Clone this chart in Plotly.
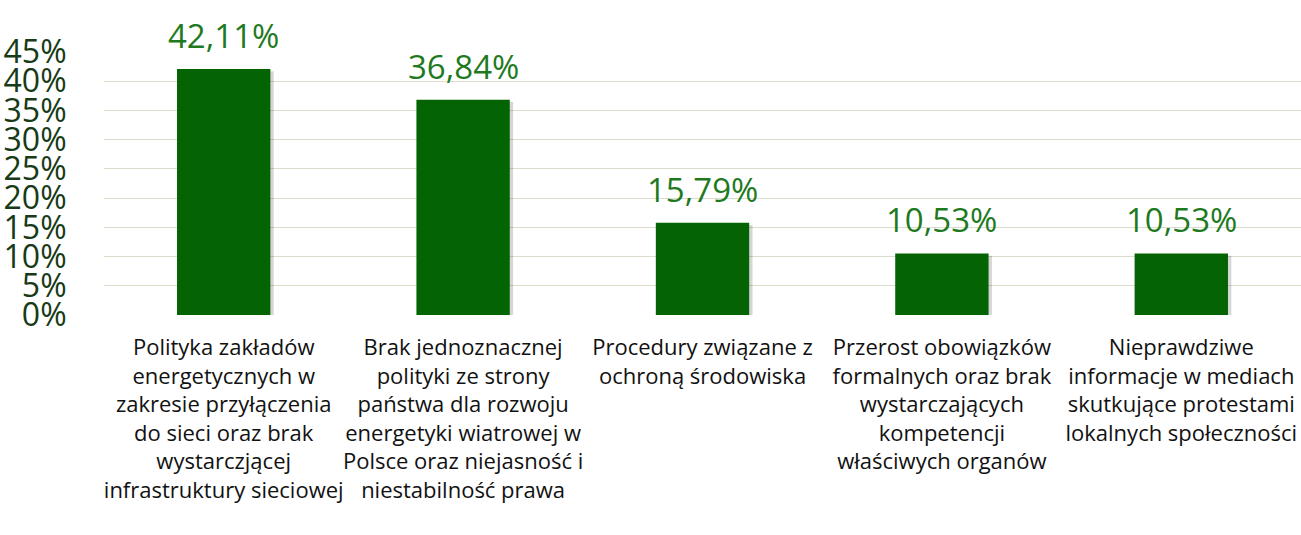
import plotly.graph_objects as go

categories = [
    "Polityka zakładów<br>energetycznych w<br>zakresie przyłączenia<br>do sieci oraz brak<br>wystarczjącej<br>infrastruktury sieciowej",
    "Brak jednoznacznej<br>polityki ze strony<br>państwa dla rozwoju<br>energetyki wiatrowej w<br>Polsce oraz niejasność i<br>niestabilność prawa",
    "Procedury związane z<br>ochroną środowiska",
    "Przerost obowiązków<br>formalnych oraz brak<br>wystarczających<br>kompetencji<br>właściwych organów",
    "Nieprawdziwe<br>informacje w mediach<br>skutkujące protestami<br>lokalnych społeczności",
]
values = [0.4211, 0.3684, 0.1579, 0.1053, 0.1053]
tick_vals = [0, 0.05, 0.10, 0.15, 0.20, 0.25, 0.30, 0.35, 0.40, 0.45]
tick_text = ["0%", "5%", "10%", "15%", "20%", "25%", "30%", "35%", "40%", "45%"]

labels = [f"{v*100:.2f}".replace(".", ",") + "%" for v in values]

fig = go.Figure()
# soft shadow behind bars
fig.add_trace(go.Bar(
    x=categories, y=values, base=-0.004,
    marker=dict(color="rgba(0,0,0,0.16)", line=dict(width=0)),
    width=0.39, offset=-0.195 + 0.014,
    hoverinfo="skip",
))
fig.add_trace(go.Bar(
    x=categories, y=values,
    marker=dict(color="#046404", line=dict(width=0)),
    width=0.39, offset=-0.195,
    hoverinfo="skip",
))
for c, v, t in zip(categories, values, labels):
    fig.add_annotation(x=c, y=v, text=t, showarrow=False, yanchor="bottom",
                       yshift=9, font=dict(family="Open Sans", size=33, color="#1f7a1f"))

fig.update_layout(
    width=1301, height=535,
    margin=dict(l=104, r=0, t=52, b=220),
    paper_bgcolor="white", plot_bgcolor="white",
    showlegend=False,
    barmode="overlay",
)
fig.update_yaxes(
    range=[0, 0.45], tickvals=tick_vals, ticktext=tick_text,
    showgrid=True, gridcolor="#dcdccb", gridwidth=1,
    zeroline=False, showline=False,
    ticks="outside", ticklen=0, ticklabelstandoff=30,
    tickfont=dict(family="Open Sans", size=32, color="#173a17"),
)
fig.update_xaxes(
    showgrid=False, showline=False, ticks="",
    tickangle=0, ticklabelstandoff=17,
    tickfont=dict(family="Open Sans", size=22, color="#111111"),
)
fig.write_html("out.html")
